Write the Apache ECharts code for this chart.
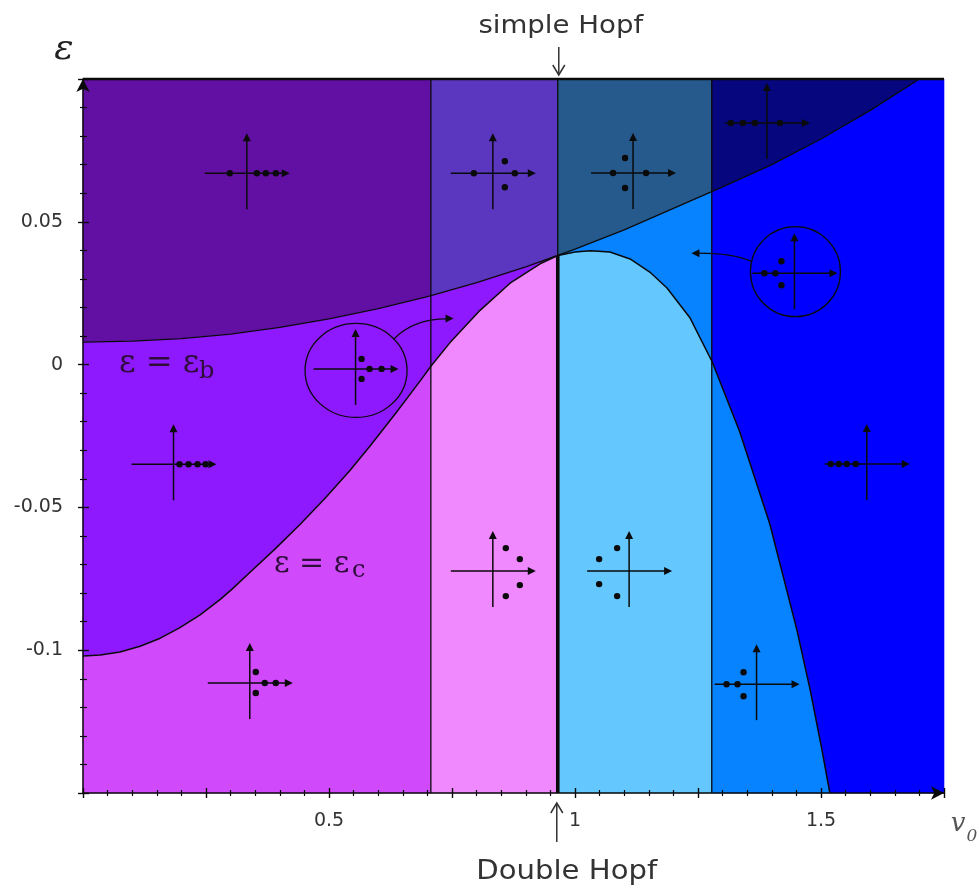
<!DOCTYPE html>
<html>
<head>
<meta charset="utf-8">
<script src="https://cdn.jsdelivr.net/npm/echarts@6/dist/echarts.min.js"></script>
<style>
  html, body { margin: 0; padding: 0; background: #ffffff; }
  #chart { width: 979px; height: 890px; }
</style>
</head>
<body>
<div id="chart"></div>
<script>
// Plane (v0, epsilon)
const V_MIN = 0, V_MAX = 1.75;
const EPS_MIN = -0.15, EPS_MAX = 0.1;
const xTickLabels = [0.5, 1, 1.5];
const yTickLabels = [0.05, 0, -0.05, -0.1];

// Boundary epsilon = epsilon_b
const ebX = [0, 0.1, 0.2, 0.3, 0.4, 0.5, 0.6, 0.7, 0.8, 0.9, 1.0, 1.1, 1.2, 1.3, 1.4, 1.5, 1.6, 1.7];
const ebY = [0.0079, 0.0082, 0.0091, 0.0107, 0.0130, 0.0160, 0.0196, 0.0238, 0.0287, 0.0342, 0.0404, 0.0472, 0.0547, 0.0622, 0.0700, 0.0790, 0.0890, 0.1000];

// Boundary epsilon = epsilon_c
const ecX = [0, 0.035, 0.075, 0.116, 0.157, 0.197, 0.238, 0.279, 0.303, 0.339, 0.390, 0.441, 0.492, 0.543, 0.583, 0.634, 0.685, 0.707, 0.746, 0.807, 0.868, 0.929, 0.965, 1.000, 1.031, 1.071, 1.112, 1.152, 1.187, 1.234, 1.279, 1.335, 1.396, 1.451, 1.478, 1.502, 1.518];
const ecY = [-0.1020, -0.1017, -0.1006, -0.0986, -0.0958, -0.0921, -0.0876, -0.0822, -0.0786, -0.0728, -0.0646, -0.0560, -0.0468, -0.0370, -0.0286, -0.0174, -0.0058, -0.0006, 0.0077, 0.0190, 0.0285, 0.0353, 0.0382, 0.0394, 0.0399, 0.0394, 0.0370, 0.0324, 0.0268, 0.0163, 0.0009, -0.0236, -0.0558, -0.0929, -0.1139, -0.1349, -0.1500];

// Vertical boundaries (the middle one is the double Hopf point)
const vBounds = [0.707, 0.965, 1.278];

// Centres of the eigenvalue sketches
const iconX = [0.333, 0.833, 1.118, 1.390, 1.446, 0.554, 0.184, 0.339, 0.833, 1.110, 1.369, 1.593];
const iconY = [0.0670, 0.0670, 0.0671, 0.0846, 0.0320, -0.0015, -0.0349, -0.1115, -0.0723, -0.0723, -0.1119, -0.0348];

// ---- helpers ----
function yAt(xs, ys, x) {
  if (x <= xs[0]) return ys[0];
  for (let i = 1; i < xs.length; i++) {
    if (x <= xs[i]) {
      const t = (x - xs[i - 1]) / (xs[i] - xs[i - 1]);
      return ys[i - 1] + t * (ys[i] - ys[i - 1]);
    }
  }
  return ys[ys.length - 1];
}
function seg(xs, ys, x0, x1) {
  const pts = [[x0, yAt(xs, ys, x0)]];
  for (let i = 0; i < xs.length; i++) {
    if (xs[i] > x0 && xs[i] < x1) pts.push([xs[i], ys[i]]);
  }
  pts.push([x1, yAt(xs, ys, x1)]);
  return pts;
}
const eb = (a, b) => seg(ebX, ebY, a, b);
const ec = (a, b) => seg(ecX, ecY, a, b);
const rev = (p) => p.slice().reverse();

const [A, B, C] = vBounds;
const ebEnd = ebX[ebX.length - 1];
const ecEnd = ecX[ecX.length - 1];
const TOP = EPS_MAX, BOT = EPS_MIN;

const regions = [
  { fill: '#620fa3', pts: [...eb(0, A), [A, TOP], [0, TOP]] },
  { fill: '#5b37bf', pts: [...eb(A, B), [B, TOP], [A, TOP]] },
  { fill: '#275a8c', pts: [...eb(B, C), [C, TOP], [B, TOP]] },
  { fill: '#06067f', pts: [...eb(C, ebEnd), [C, TOP]] },
  { fill: '#8f19fe', pts: [...eb(0, B), ...rev(ec(0, B))] },
  { fill: '#d04afc', pts: [...ec(0, A), [A, BOT], [0, BOT]] },
  { fill: '#f088fe', pts: [...ec(A, B), [B, BOT], [A, BOT]] },
  { fill: '#64c8ff', pts: [...ec(B, C), [C, BOT], [B, BOT]] },
  { fill: '#0883ff', pts: [...eb(B, C), ...rev(ec(B, C))] },
  { fill: '#0883ff', pts: [...ec(C, ecEnd), [C, BOT]] },
  { fill: '#0000fe', pts: [...eb(C, ebEnd), [V_MAX, TOP], [V_MAX, BOT], ...rev(ec(C, ecEnd))] }
];

// dot layouts of each sketch, in pixels from the axis crossing
const DOTS = [
  [[-17, 0], [10, 0], [19, 0], [29, 0]],
  [[-19, 0], [12, -12], [12, 14], [22, 0]],
  [[-20, 0], [-8, -15], [-8, 15], [13, 0]],
  [[-36, 0], [-24, 0], [-12, 0], [13, 0]],
  [[-30, 0], [-19, 0], [-13, -12], [-13, 12]],
  [[6, -10], [6, 10], [14, 0], [26, 0]],
  [[6, 0], [15, 0], [24, 0], [32, 0]],
  [[6, -11], [6, 10], [15, 0], [26, 0]],
  [[13, -23], [27, -12], [27, 14], [13, 25]],
  [[-30, -12], [-12, -23], [-30, 13], [-12, 25]],
  [[-30, 0], [-19, 0], [-13, -12], [-13, 12]],
  [[-36, 0], [-28, 0], [-20, 0], [-11, 0]]
];
const INK = '#0a0a0a';

function sketch(cx, cy, k) {
  const ch = [];
  const ln = { stroke: INK, lineWidth: 1.5 };
  ch.push({ type: 'line', shape: { x1: cx - 42, y1: cy, x2: cx + 37, y2: cy }, style: ln });
  ch.push({ type: 'polygon', shape: { points: [[cx + 43, cy], [cx + 35, cy - 4], [cx + 35, cy + 4]] }, style: { fill: INK } });
  ch.push({ type: 'line', shape: { x1: cx, y1: cy + 36, x2: cx, y2: cy - 33 }, style: ln });
  ch.push({ type: 'polygon', shape: { points: [[cx, cy - 40], [cx - 4, cy - 32], [cx + 4, cy - 32]] }, style: { fill: INK } });
  DOTS[k].forEach(d => {
    ch.push({ type: 'circle', shape: { cx: cx + d[0], cy: cy + d[1], r: 3.2 }, style: { fill: INK } });
  });
  if (k === 4) {
    ch.push({ type: 'circle', shape: { cx: cx + 1, cy: cy - 1.5, r: 45 }, style: { fill: 'none', stroke: INK, lineWidth: 1.3 } });
    ch.push({ type: 'bezierCurve', shape: { x1: cx - 43.5, y1: cy - 12, cpx1: cx - 62, cpy1: cy - 20, x2: cx - 96, y2: cy - 20 }, style: { fill: 'none', stroke: INK, lineWidth: 1.3 } });
    ch.push({ type: 'polygon', shape: { points: [[cx - 103, cy - 20], [cx - 95, cy - 24], [cx - 95, cy - 16]] }, style: { fill: INK } });
  }
  if (k === 5) {
    ch.push({ type: 'ellipse', shape: { cx: cx + 0.5, cy: cy + 1.5, rx: 51, ry: 47 }, style: { fill: 'none', stroke: INK, lineWidth: 1.3 } });
    ch.push({ type: 'bezierCurve', shape: { x1: cx + 38.5, y1: cy - 30, cpx1: cx + 58, cpy1: cy - 50, x2: cx + 91, y2: cy - 50 }, style: { fill: 'none', stroke: INK, lineWidth: 1.3 } });
    ch.push({ type: 'polygon', shape: { points: [[cx + 98, cy - 50.5], [cx + 90, cy - 54.5], [cx + 90, cy - 46.5]] }, style: { fill: INK } });
  }
  return { type: 'group', children: ch };
}

const lineSeries = (data, width, z) => ({
  type: 'line', data, symbol: 'none', showSymbol: false, clip: false, silent: true, z: z || 3,
  lineStyle: { color: INK, width }
});

const ecAtB = yAt(ecX, ecY, B);

const axisFont = { fontFamily: 'DejaVu Sans', fontSize: 19, color: '#333' };
const near = (list, v) => list.some(t => Math.abs(t - v) < 1e-9);

const option = {
  animation: false,
  backgroundColor: '#ffffff',
  grid: { left: 83, top: 79, width: 861, height: 714, containLabel: false },
  xAxis: [
    {
      type: 'value', min: V_MIN, max: V_MAX, interval: 0.25, position: 'bottom', z: 20,
      axisLine: { show: true, onZero: false, symbol: ['none', 'arrow'], symbolSize: [10, 13], lineStyle: { color: INK, width: 1.5 } },
      axisTick: { show: true, length: 5, lineStyle: { color: INK, width: 1.4 } },
      minorTick: { show: true, splitNumber: 5, length: 3, lineStyle: { color: INK, width: 1.2 } },
      axisLabel: Object.assign({ margin: 19, formatter: v => near(xTickLabels, v) ? String(v) : '' }, axisFont),
      splitLine: { show: false }, minorSplitLine: { show: false }
    },
    {
      type: 'value', min: V_MIN, max: V_MAX, interval: 0.25, position: 'top', offset: -714, z: 20,
      axisLine: { show: false, onZero: false },
      axisTick: { show: true, length: 5, lineStyle: { color: INK, width: 1.4 } },
      minorTick: { show: true, splitNumber: 5, length: 3, lineStyle: { color: INK, width: 1.2 } },
      axisLabel: { show: false }, splitLine: { show: false }
    }
  ],
  yAxis: [
    {
      type: 'value', min: EPS_MIN, max: EPS_MAX, interval: 0.05, position: 'left', z: 20,
      axisLine: { show: true, onZero: false, symbol: ['none', 'arrow'], symbolSize: [10, 13], lineStyle: { color: INK, width: 1.5 } },
      axisTick: { show: true, length: 5, lineStyle: { color: INK, width: 1.4 } },
      minorTick: { show: true, splitNumber: 5, length: 3, lineStyle: { color: INK, width: 1.2 } },
      axisLabel: Object.assign({ margin: 20, formatter: v => near(yTickLabels, v) ? String(v) : '' }, axisFont),
      splitLine: { show: false }, minorSplitLine: { show: false }
    },
    {
      type: 'value', min: EPS_MIN, max: EPS_MAX, interval: 0.05, position: 'right', offset: -861, z: 20,
      axisLine: { show: false, onZero: false },
      axisTick: { show: true, length: 6, lineStyle: { color: INK, width: 1.4 } },
      minorTick: { show: true, splitNumber: 5, length: 4, lineStyle: { color: INK, width: 1.2 } },
      axisLabel: { show: false }, splitLine: { show: false }
    }
  ],
  graphic: [
    { type: 'text', x: 64, y: 50, style: { text: 'ε', font: 'italic 36px "DejaVu Serif"', fill: '#222', align: 'center', verticalAlign: 'middle' } },
    { type: 'text', x: 958, y: 824, style: { text: 'v', font: 'italic 26px "DejaVu Serif"', fill: '#555', align: 'center', verticalAlign: 'middle' } },
    { type: 'text', x: 972, y: 837, style: { text: '0', font: 'italic 17px "DejaVu Serif"', fill: '#555', align: 'center', verticalAlign: 'middle' } },
    { type: 'text', x: 119, y: 364, z: 30, style: { text: 'ε = ε', font: '32px "DejaVu Serif"', fill: '#2e0d3a', align: 'left', verticalAlign: 'middle' } },
    { type: 'text', x: 199, y: 372, z: 30, style: { text: 'b', font: '24px "DejaVu Serif"', fill: '#2e0d3a', align: 'left', verticalAlign: 'middle' } },
    { type: 'text', x: 274, y: 564, z: 30, style: { text: 'ε = ε', font: '30px "DejaVu Serif"', fill: '#2e0d3a', align: 'left', verticalAlign: 'middle' } },
    { type: 'text', x: 352, y: 571, z: 30, style: { text: 'c', font: '24px "DejaVu Serif"', fill: '#2e0d3a', align: 'left', verticalAlign: 'middle' } }
  ],
  series: [
    {
      type: 'custom', name: 'regions', z: 1, silent: true,
      data: regions.map(() => [V_MIN, EPS_MIN]),
      renderItem: (params, api) => {
        const r = regions[params.dataIndex];
        return {
          type: 'polygon',
          shape: { points: r.pts.map(p => api.coord(p)) },
          style: { fill: r.fill, stroke: r.fill, lineWidth: 0.6 }
        };
      }
    },
    lineSeries(ebX.map((x, i) => [x, ebY[i]]), 1.3),
    lineSeries(ecX.map((x, i) => [x, ecY[i]]), 1.5),
    lineSeries([[A, BOT], [A, TOP]], 1.3),
    lineSeries([[C, BOT], [C, TOP]], 1.3),
    lineSeries([[B, ecAtB], [B, TOP]], 1.3),
    lineSeries([[B, BOT], [B, ecAtB]], 3.6),
    lineSeries([[V_MIN, TOP], [V_MAX, TOP]], 2.6, 4),
    {
      type: 'custom', name: 'sketches', z: 5, silent: true,
      data: iconX.map((x, i) => [x, iconY[i]]),
      renderItem: (params, api) => {
        const p = api.coord([api.value(0), api.value(1)]);
        return sketch(p[0], p[1], params.dataIndex);
      }
    },
    {
      type: 'custom', name: 'hopf', z: 6, silent: true, clip: false,
      data: [[B, EPS_MAX]],
      renderItem: (params, api) => {
        const t = api.coord([api.value(0), EPS_MAX]);
        const b = api.coord([api.value(0), EPS_MIN]);
        const gray = '#333';
        const st = { stroke: gray, lineWidth: 1.5, fill: 'none' };
        const tx = t[0] + 1, bx = b[0] - 1;
        return {
          type: 'group',
          children: [
            { type: 'text', x: tx + 2, y: t[1] - 52, scaleX: 1.15, style: { text: 'simple Hopf', font: '24px "DejaVu Sans"', fill: gray, align: 'center', verticalAlign: 'middle' } },
            { type: 'line', shape: { x1: tx, y1: t[1] - 32, x2: tx, y2: t[1] - 4 }, style: st },
            { type: 'polyline', shape: { points: [[tx - 6, t[1] - 14], [tx, t[1] - 4], [tx + 6, t[1] - 14]] }, style: st },
            { type: 'line', shape: { x1: bx, y1: b[1] + 49, x2: bx, y2: b[1] + 10 }, style: st },
            { type: 'polyline', shape: { points: [[bx - 6, b[1] + 20], [bx, b[1] + 10], [bx + 6, b[1] + 20]] }, style: st },
            { type: 'text', x: bx + 10, y: b[1] + 79, scaleX: 1.12, style: { text: 'Double Hopf', font: '26px "DejaVu Sans"', fill: gray, align: 'center', verticalAlign: 'middle' } }
          ]
        };
      }
    }
  ]
};

const chart = echarts.init(document.getElementById('chart'), null, { renderer: 'canvas' });
chart.setOption(option);
</script>
</body>
</html>
